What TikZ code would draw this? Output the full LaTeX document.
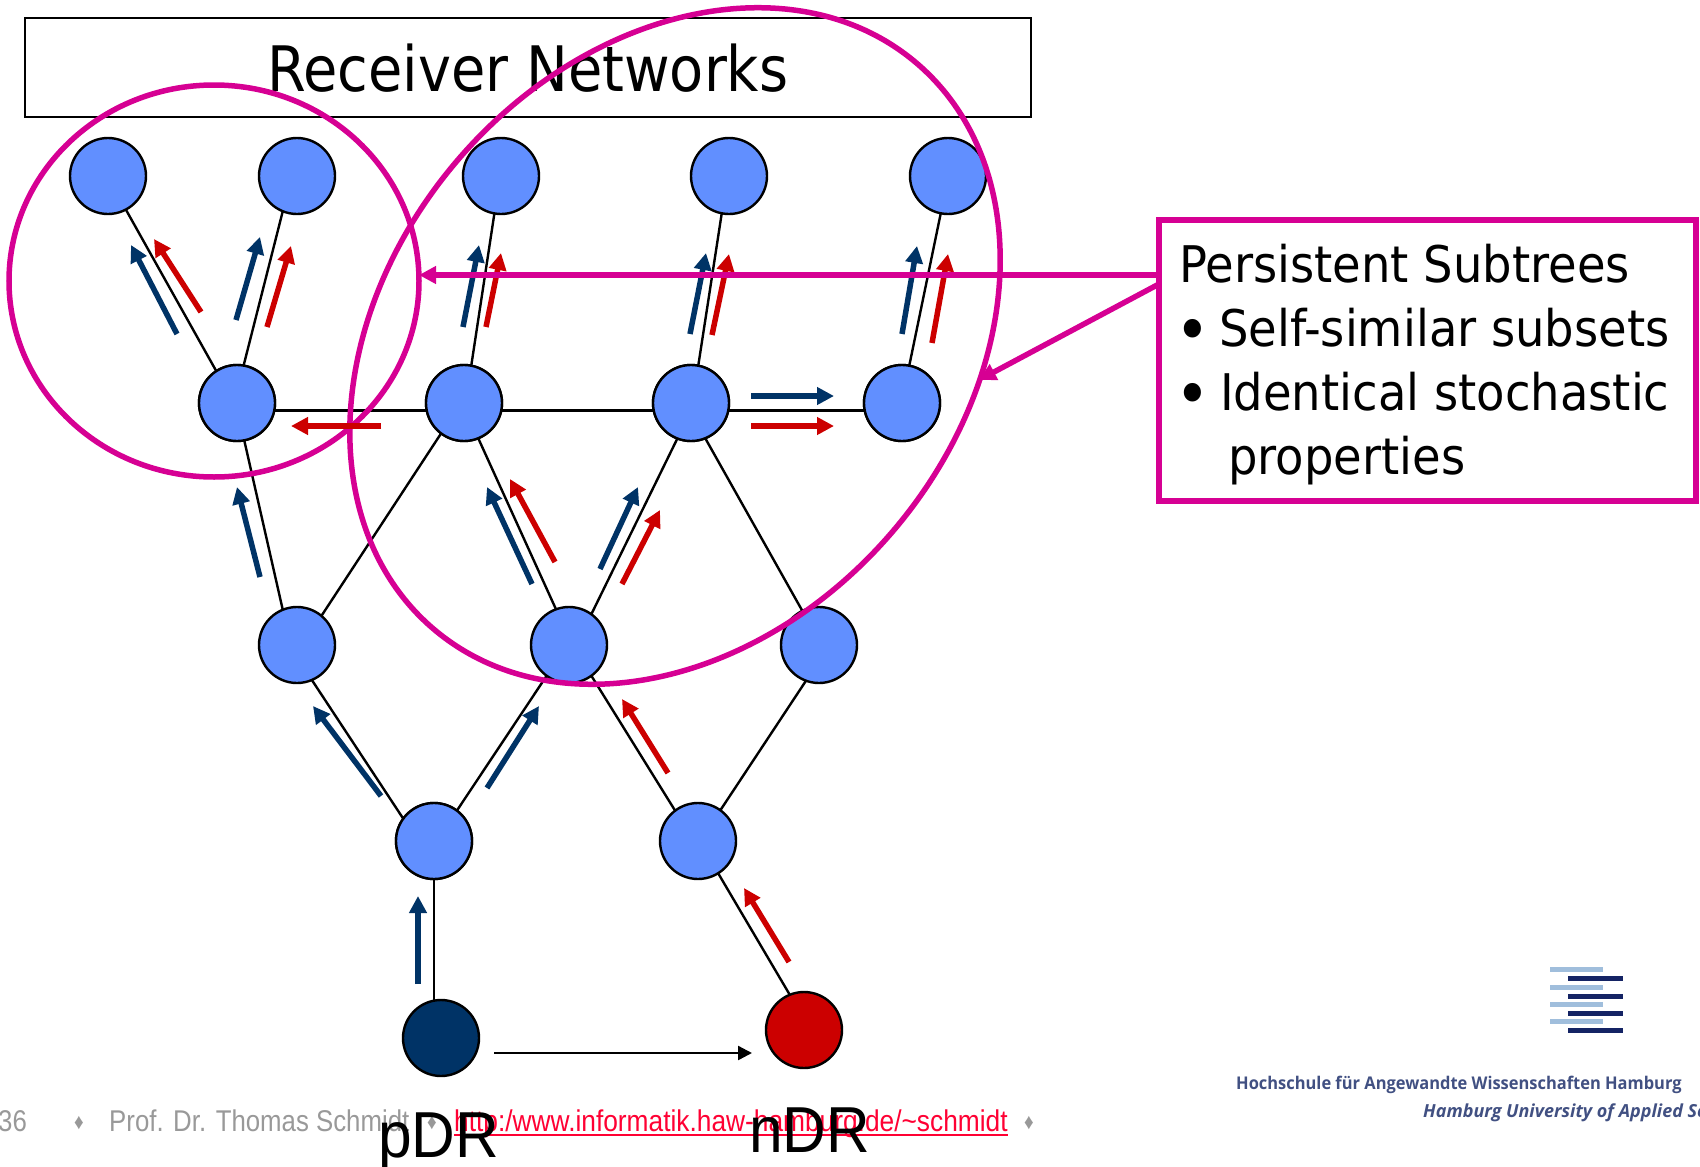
\documentclass[tikz,border=0pt]{standalone}
\usepackage{fontspec}
\usetikzlibrary{arrows.meta,shapes.geometric}
\newfontfamily\titlefont[FakeStretch=0.89]{DejaVu Sans}
\newfontfamily\boxfont[FakeStretch=0.92]{DejaVu Sans}
\newfontfamily\proffont[FakeStretch=0.86]{Liberation Sans}
\newfontfamily\linkfont[FakeStretch=0.877]{Liberation Sans}
\newfontfamily\labelfont[FakeStretch=0.93]{Liberation Sans}
\newfontfamily\logofont{Open Sans}
\newfontfamily\logofontB[FakeStretch=0.94]{Open Sans}
\definecolor{nodeblue}{RGB}{97,143,255}
\definecolor{flowblue}{RGB}{0,51,102}
\definecolor{flowred}{RGB}{204,0,0}
\definecolor{magentaline}{RGB}{214,0,147}
\definecolor{footgray}{RGB}{153,153,153}
\definecolor{linkred}{RGB}{255,0,51}
\definecolor{logolight}{RGB}{160,190,220}
\definecolor{logodark}{RGB}{20,35,100}
\definecolor{logotext}{RGB}{65,80,130}
\tikzset{
  net/.style={circle,draw=black,line width=2.4pt,fill=nodeblue,minimum size=76pt,inner sep=0pt,outer sep=0pt},
  edgeline/.style={draw=black,line width=2.4pt},
  blueflow/.style={draw=flowblue,line width=5.5pt,-{Triangle[length=17pt,width=17pt]}},
  redflow/.style={draw=flowred,line width=5.5pt,-{Triangle[length=17pt,width=17pt]}},
  callout/.style={draw=magentaline,line width=5.5pt,-{Triangle[length=17pt,width=17pt]}},
  ring/.style={ellipse,draw=magentaline,line width=5.5pt,inner sep=0pt,outer sep=0pt,fill=none},
  txt/.style={inner sep=0pt,anchor=base west,text depth=0pt},
  logobar/.style={line width=5pt}
}
\newcounter{fl}
\newcommand{\flowA}[3]{\stepcounter{fl}\coordinate (fs\thefl) at (#2);\coordinate (fe\thefl) at (#3);\draw[#1] (fs\thefl) -- (fe\thefl);}
\begin{document}
\begin{tikzpicture}[x=1pt,y=-1pt]
\useasboundingbox (0,0) rectangle (1700,1167);
\clip (0,0) rectangle (1700,1167);
% footer
\node[txt,text=footgray,font=\proffont\fontsize{30}{30}\selectfont] (pg) at (-2,1131) {36};
\node[txt,text=footgray,font=\proffont\fontsize{22}{22}\selectfont] (d1) at (74,1129) {♦};
\node[txt,text=footgray,font=\proffont\fontsize{30}{30}\selectfont] (prof) at (109,1131) {Prof. Dr. Thomas Schmidt};
\node[txt,text=footgray,font=\proffont\fontsize{22}{22}\selectfont] (d2) at (427,1129) {♦};
\node[txt,text=linkred,font=\linkfont\fontsize{30}{30}\selectfont] (link) at (454,1131) {http:/www.informatik.haw-hamburg.de/\textasciitilde schmidt};
\draw[linkred,line width=2pt] (link.base west)++(0,4) -- ++(554,0);
\node[txt,text=footgray,font=\proffont\fontsize{22}{22}\selectfont] (d3) at (1024,1129) {♦};
% title
\node[draw=black,line width=2pt,minimum width=1006pt,minimum height=99pt,inner sep=0pt,outer sep=0pt,anchor=north west] (title) at (25,18) {};
\node[txt,font=\titlefont\fontsize{62.7}{62.7}\selectfont] (titletext) at (267,91) {Receiver Networks};
% nodes
\node[net] (a1) at (108,176) {};
\node[net] (a2) at (297,176) {};
\node[net] (a3) at (501,176) {};
\node[net] (a4) at (729,176) {};
\node[net] (a5) at (948,176) {};
\node[net] (b1) at (237,403) {};
\node[net] (b2) at (464,403) {};
\node[net] (b3) at (691,403) {};
\node[net] (b4) at (902,403) {};
\node[net] (c1) at (297,645) {};
\node[net] (c2) at (569,645) {};
\node[net] (c3) at (819,645) {};
\node[net] (d4) at (434,841) {};
\node[net] (d5) at (698,841) {};
\node[net,fill=flowblue] (pdr) at (441,1038) {};
\node[net,fill=flowred] (ndr) at (804,1030) {};
% edges
\draw[edgeline] (a1.298) -- (b1.123);
\draw[edgeline] (a2.248) -- (b1.80);
\draw[edgeline] (a3.260) -- (b2.79);
\draw[edgeline] (a4.259) -- (b3.79);
\draw[edgeline] (a5.259) -- (b4.79);
\draw[edgeline] (c1.112) -- (b1.281);
\draw[edgeline] (c1.50) -- (b2.233);
\draw[edgeline] (c2.110) -- (b2.292);
\draw[edgeline] (c2.54) -- (b3.249);
\draw[edgeline] (c3.116) -- (b3.292);
\draw[edgeline] (d4.144) -- (c1.293);
\draw[edgeline] (d4.53) -- (c2.234);
\draw[edgeline] (d5.127) -- (c2.306);
\draw[edgeline] (d5.54) -- (c3.250);
\draw[edgeline] (ndr.112) -- (d5.302);
\foreach \p/\q in {b1/b2,b2/b3,b3/b4}
  \draw[edgeline] ([yshift=-7.5pt]\p.center) -- ([yshift=-7.5pt]\q.center);
\foreach \n in {b1,b2,b3,b4} \node[net] at (\n) {};
\draw[edgeline] (d4) -- (d4 |- pdr.north);
\node[net] at (d4) {};
\coordinate (tostart) at (494,1053);
\coordinate (toend) at (752,1053);
\draw[edgeline,-{Triangle[length=14pt,width=14pt]}] (tostart) -- (toend);
% flow arrows
\flowA{blueflow}{177,334}{131,245}
\flowA{blueflow}{236,320}{260,237}
\flowA{blueflow}{463,327}{479,245}
\flowA{blueflow}{690,334}{706,253}
\flowA{blueflow}{902,334}{917,246}
\flowA{blueflow}{751,396}{834,396}
\flowA{blueflow}{260,577}{237,487}
\flowA{blueflow}{532,584}{487,487}
\flowA{blueflow}{600,569}{638,487}
\flowA{blueflow}{381,796}{313,706}
\flowA{blueflow}{487,788}{539,706}
\flowA{blueflow}{418,984}{418,896}
\flowA{redflow}{201,312}{154,239}
\flowA{redflow}{267,327}{291,246}
\flowA{redflow}{486,327}{501,253}
\flowA{redflow}{712,335}{729,254}
\flowA{redflow}{932,343}{948,254}
\flowA{redflow}{751,426}{834,426}
\flowA{redflow}{555,562}{510,479}
\flowA{redflow}{622,584}{660,510}
\flowA{redflow}{668,773}{622,699}
\flowA{redflow}{789,962}{744,888}
% rings
\node[ring,minimum width=410pt,minimum height=392pt] (left) at (214,281) {};
\node[ring,minimum width=744pt,minimum height=572pt,rotate=49.4] (right) at (675,346) {};
\flowA{redflow}{381,426}{291,426}
% callout
\node[draw=magentaline,line width=5.5pt,anchor=north west,minimum width=537pt,minimum height=281pt,inner sep=0pt,outer sep=0pt] (box) at (1159,220) {};
\coordinate (boxa) at (1159,275);
\coordinate (boxb) at (1159,284);
\coordinate (ptleft) at (419,275);
\coordinate (ptright) at (979,380);
\draw[callout] (boxa) -- (ptleft);
\draw[callout] (boxb) -- (ptright);
\node[txt,font=\boxfont\fontsize{50.5}{50.5}\selectfont] (l1) at (1179,282) {Persistent Subtrees};
\node[txt,font=\boxfont\fontsize{64}{64}\selectfont] (bullet1) at (1175,352) {•};
\node[txt,font=\boxfont\fontsize{50.5}{50.5}\selectfont] (l2) at (1219,346) {Self-similar subsets};
\node[txt,font=\boxfont\fontsize{64}{64}\selectfont] (bullet2) at (1175,416) {•};
\node[txt,font=\boxfont\fontsize{50.5}{50.5}\selectfont] (l3) at (1220,410) {Identical stochastic};
\node[txt,font=\boxfont\fontsize{50.5}{50.5}\selectfont] (l4) at (1228,474) {properties};
% labels
\node[txt,font=\labelfont\fontsize{65}{65}\selectfont] (plabel) at (378,1157) {pDR};
\node[txt,font=\labelfont\fontsize{65}{65}\selectfont] (nlabel) at (749,1152) {nDR};
% logo
\foreach \y in {969,987,1004,1021} \draw[logobar,logolight] (1550,\y) -- (1603,\y);
\foreach \y in {978,996,1013,1030} \draw[logobar,logodark] (1568,\y) -- (1623,\y);
\node[txt,text=logotext,font=\logofontB\bfseries\fontsize{17.5}{17.5}\selectfont] (hsa) at (1236,1089) {Hochschule für Angewandte Wissenschaften Hamburg};
\node[txt,text=logotext,font=\logofont\bfseries\itshape\fontsize{18}{18}\selectfont] (hsb) at (1423,1117) {Hamburg University of Applied Sc};
\end{tikzpicture}
\end{document}
